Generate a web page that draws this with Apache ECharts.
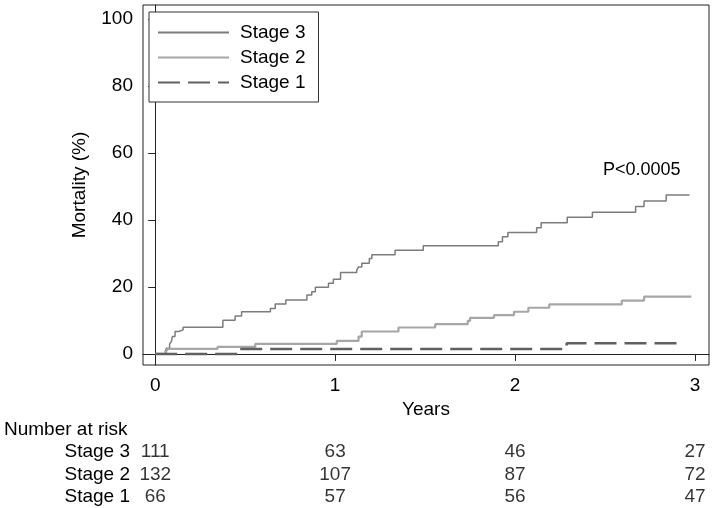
<!DOCTYPE html>
<html>
<head>
<meta charset="utf-8">
<script src="https://cdn.jsdelivr.net/npm/echarts@6/dist/echarts.min.js"></script>
<style>html,body{margin:0;padding:0;background:#fff}#c{width:714px;height:508px}</style>
</head>
<body>
<div id="c"></div>
<script>
// ---- data ----
const seriesNames = ['Stage 3', 'Stage 2', 'Stage 1'];
const stage3Times = [0, 0.056, 0.062, 0.08, 0.09, 0.095, 0.11, 0.13, 0.155, 0.376, 0.444, 0.48, 0.64, 0.667, 0.726, 0.843, 0.87, 0.89, 0.963, 0.99, 1.03, 1.12, 1.13, 1.148, 1.19, 1.204, 1.333, 1.49, 1.907, 1.93, 1.96, 2.12, 2.145, 2.29, 2.43, 2.67, 2.717, 2.84, 2.97];
const stage3Mortality = [0, 0.9, 1.7, 3.0, 3.7, 5.2, 6.7, 7.2, 8.0, 10.1, 11.3, 12.6, 13.6, 14.9, 16.1, 17.6, 18.6, 19.9, 21.1, 22.3, 24.3, 25.0, 26.0, 27.1, 28.5, 29.6, 31.0, 32.3, 33.5, 35.0, 36.3, 37.7, 39.2, 40.8, 42.3, 44.0, 45.7, 47.5, 47.5];
const stage2Times = [0, 0.06, 0.07, 0.346, 0.556, 1.009, 1.13, 1.148, 1.352, 1.556, 1.737, 1.75, 1.883, 1.994, 2.074, 2.19, 2.593, 2.717, 2.98];
const stage2Mortality = [0, 0.8, 1.5, 2.1, 3.0, 3.9, 5.2, 6.7, 7.9, 8.9, 9.9, 10.8, 11.6, 12.6, 13.8, 14.8, 15.9, 17.1, 17.1];
const stage1Times = [0, 0.467, 2.287, 2.935];
const stage1Mortality = [0, 1.5, 3.2, 3.2];
const xTicks = [0, 1, 2, 3];
const yTicks = [0, 20, 40, 60, 80, 100];
const riskRows = ['Stage 1', 'Stage 2', 'Stage 3'];
const riskTimes = [0, 1, 2, 3];
const riskStage3 = [111, 63, 46, 27];
const riskStage2 = [132, 107, 87, 72];
const riskStage1 = [66, 57, 56, 47];
const pText = 'P<0.0005';

const zip = (a, b) => a.map((t, i) => [t, b[i]]);
const riskData = [];
[[ 'Stage 3', riskStage3 ], [ 'Stage 2', riskStage2 ], [ 'Stage 1', riskStage1 ]].forEach(([name, arr]) => {
  arr.forEach((v, i) => riskData.push([riskTimes[i], name, v]));
});

const FONT = 'Liberation Sans, Arial, Helvetica, sans-serif';
const FS = 19;
const XMIN = -0.068, XMAX = 3.078;

const chart = echarts.init(document.getElementById('c'), null, {renderer: 'canvas'});
chart.setOption({
  animation: false,
  backgroundColor: '#fff',
  textStyle: {fontFamily: FONT},
  title: {
    text: 'Number at risk', left: 4, top: 420, padding: 0,
    textStyle: {fontSize: FS, fontWeight: 'normal', color: '#000', fontFamily: FONT}
  },
  legend: {
    orient: 'vertical', left: 149, top: 12,
    data: seriesNames,
    itemWidth: 71, itemHeight: 14, itemGap: 6,
    borderColor: '#333', borderWidth: 1, borderRadius: 0,
    padding: [11, 13, 10, 8],
    backgroundColor: '#fff',
    itemStyle: {opacity: 0},
    textStyle: {fontSize: FS, color: '#000', fontFamily: FONT, padding: [0, 0, 0, 6]}
  },
  grid: [
    {left: 143, right: 5, top: 5, bottom: 143, show: true, borderColor: '#222', borderWidth: 1, backgroundColor: 'transparent'},
    {left: 143, right: 5, top: 441, height: 67}
  ],
  xAxis: [
    {
      type: 'value', gridIndex: 0, min: XMIN, max: XMAX,
      name: 'Years', nameLocation: 'middle', nameGap: 33,
      nameTextStyle: {fontSize: FS, color: '#000', fontFamily: FONT},
      axisLine: {show: true, lineStyle: {color: '#222', width: 1}},
      axisTick: {show: true, length: 7, customValues: xTicks, lineStyle: {color: '#222'}},
      axisLabel: {show: true, customValues: xTicks, fontSize: FS, color: '#000', margin: 11, fontFamily: FONT},
      splitLine: {show: false}
    },
    {type: 'value', gridIndex: 1, min: XMIN, max: XMAX, show: false}
  ],
  yAxis: [
    {
      type: 'value', gridIndex: 0, min: -3.3, max: 104.2,
      name: 'Mortality (%)', nameLocation: 'middle', nameGap: 54,
      nameTextStyle: {fontSize: FS, color: '#000', fontFamily: FONT},
      axisLine: {show: true, lineStyle: {color: '#222', width: 1}},
      axisTick: {show: true, length: 7, customValues: yTicks, lineStyle: {color: '#222'}},
      axisLabel: {show: true, customValues: yTicks, fontSize: FS, color: '#000', margin: 10, fontFamily: FONT},
      splitLine: {show: false}
    },
    {
      type: 'category', gridIndex: 1, data: riskRows,
      axisLine: {show: false}, axisTick: {show: false}, splitLine: {show: false},
      axisLabel: {interval: 0, fontSize: FS, color: '#000', margin: 13, fontFamily: FONT}
    }
  ],
  series: [
    {
      name: 'Stage 3', type: 'line', step: 'end', symbol: 'none', xAxisIndex: 0, yAxisIndex: 0,
      data: zip(stage3Times, stage3Mortality),
      lineStyle: {color: '#7c7c7c', width: 1.5}, itemStyle: {color: '#7c7c7c'}
    },
    {
      name: 'Stage 2', type: 'line', step: 'end', symbol: 'none', xAxisIndex: 0, yAxisIndex: 0,
      data: zip(stage2Times, stage2Mortality),
      lineStyle: {color: '#a6a6a6', width: 2.2}, itemStyle: {color: '#a6a6a6'}
    },
    {
      name: 'Stage 1', type: 'line', step: 'end', symbol: 'none', xAxisIndex: 0, yAxisIndex: 0,
      data: zip(stage1Times, stage1Mortality),
      lineStyle: {color: '#606060', width: 2.6, type: [22, 8]}, itemStyle: {color: '#606060'}
    },
    {
      name: 'risk', type: 'scatter', xAxisIndex: 1, yAxisIndex: 1,
      data: riskData, symbolSize: 1, itemStyle: {color: 'rgba(0,0,0,0)'},
      label: {show: true, position: 'inside', formatter: p => String(p.value[2]), fontSize: FS, color: '#000', fontFamily: FONT}
    }
  ],
  graphic: [
    {type: 'text', left: 603, top: 161, style: {text: pText, fontSize: 18, fill: '#000', fontFamily: FONT}}
  ]
});
</script>
</body>
</html>
